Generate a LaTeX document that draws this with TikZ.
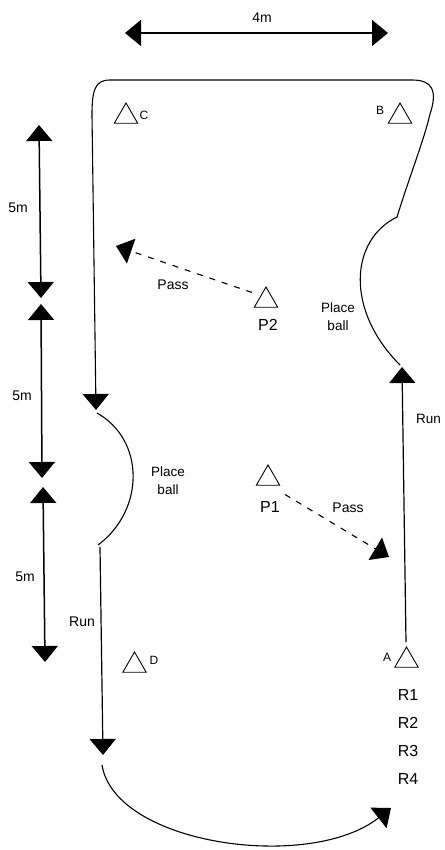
\documentclass[tikz,border=0pt]{standalone}
\usepackage{fontspec}
\setmainfont{Liberation Sans}
\usetikzlibrary{arrows.meta,shapes.geometric}
\tikzset{
  bigtip/.tip={Triangle[length=16pt,width=26pt]},
  dimline/.style={line width=1.5pt,{bigtip}-{bigtip}},
  pathline/.style={line width=1.1pt},
  runarrow/.style={line width=1.2pt,-{bigtip}},
  passarrow/.style={line width=1.1pt,dash pattern=on 6pt off 7pt,-{bigtip}},
  cone/.style={draw,line width=0.9pt,regular polygon,regular polygon sides=3,minimum size=27pt,inner sep=0pt},
  lbl/.style={inner sep=0pt,font=\fontsize{14}{15}\selectfont},
  plbl/.style={inner sep=0pt,font=\fontsize{16}{17}\selectfont},
  slbl/.style={inner sep=0pt,font=\fontsize{12}{13}\selectfont},
  twolbl/.style={inner sep=0pt,align=center,font=\fontsize{13.5}{18}\selectfont}
}
\begin{document}
\begin{tikzpicture}[x=1pt,y=-1pt]
\useasboundingbox (0,0) rectangle (444,850);
% dimension arrows
\coordinate (d4a) at (125,33);
\coordinate (d4b) at (388,33);
\draw[dimline] (d4a) -- (d4b);
\node[lbl] (m4) at (262,18) {4m};
\coordinate (l1a) at (39,125);
\coordinate (l1b) at (41,298);
\coordinate (l2a) at (41,304);
\coordinate (l2b) at (42,478);
\coordinate (l3a) at (43,487);
\coordinate (l3b) at (45,662);
\draw[dimline] (l1a) -- (l1b);
\draw[dimline] (l2a) -- (l2b);
\draw[dimline] (l3a) -- (l3b);
\node[lbl] (m5a) at (18,208) {5m};
\node[lbl] (m5b) at (22,396) {5m};
\node[lbl] (m5c) at (25,577) {5m};
% cones
\node[cone] (C) at (126,116.5) {};
\node[cone] (B) at (400,116.5) {};
\node[cone] (P2) at (266,300.5) {};
\node[cone] (P1) at (268,478.5) {};
\node[cone] (D) at (134.5,665.5) {};
\node[cone] (A) at (406.5,660.5) {};
\node[slbl] (Cl) at (144,115) {C};
\node[slbl] (Bl) at (380,110) {B};
\node[slbl] (Dl) at (154,660) {D};
\node[slbl] (Al) at (387,657) {A};
\node[plbl] (P2l) at (268,325) {P2};
\node[plbl] (P1l) at (270,507) {P1};
% right run
\coordinate (rs) at (406,642);
\coordinate (rt) at (402,367);
\draw[runarrow] (rs) -- (rt);
\node[lbl,font=\fontsize{13.5}{15}\selectfont] (run1) at (428.5,419) {Run};
% boundary: right bulge, top, left side
\coordinate (b0) at (400,365);
\coordinate (b1) at (397,217);
\coordinate (b2) at (430,114);
\coordinate (b3) at (412,80);
\coordinate (b4) at (110,80);
\coordinate (b5) at (92,115);
\coordinate (b6) at (96,410);
\draw[pathline,-{bigtip}] (b0) .. controls (345,310) and (350,240) .. (b1)
  .. controls (410,175) and (424,140) .. (b2)
  .. controls (438,90) and (432,80) .. (b3)
  -- (b4) .. controls (95,80) and (92,90) .. (b5) -- (b6);
\node[twolbl] (pb1) at (338,317) {Place\\ball};
% left bulge
\coordinate (c0) at (97,413);
\coordinate (c1) at (98,545);
\draw[pathline] (c0) .. controls (145,440) and (145,510) .. (c1);
\node[twolbl] (pb2) at (168,481) {Place\\ball};
% left run
\coordinate (ls) at (100,547);
\coordinate (lt) at (103,755);
\draw[runarrow] (ls) -- (lt);
\node[lbl] (run2) at (82,622) {Run};
% bottom curve
\coordinate (u0) at (102,765);
\coordinate (u1) at (391,808);
\draw[pathline,-{bigtip}] (u0) .. controls (115,845) and (310,872) .. (u1);
% passes
\coordinate (pt2) at (116,246);
\draw[passarrow] (P2) ++(-14,-8) -- (pt2);
\node[lbl] (pass2) at (173,285) {Pass};
\coordinate (pt1) at (389,557);
\draw[passarrow] (P1) ++(17,16) -- (pt1);
\node[lbl] (pass1) at (348,508) {Pass};
% R labels
\node[plbl] (R1) at (408,695) {R1};
\node[plbl] (R2) at (408,723) {R2};
\node[plbl] (R3) at (408,751) {R3};
\node[plbl] (R4) at (408,779) {R4};
\end{tikzpicture}
\end{document}
